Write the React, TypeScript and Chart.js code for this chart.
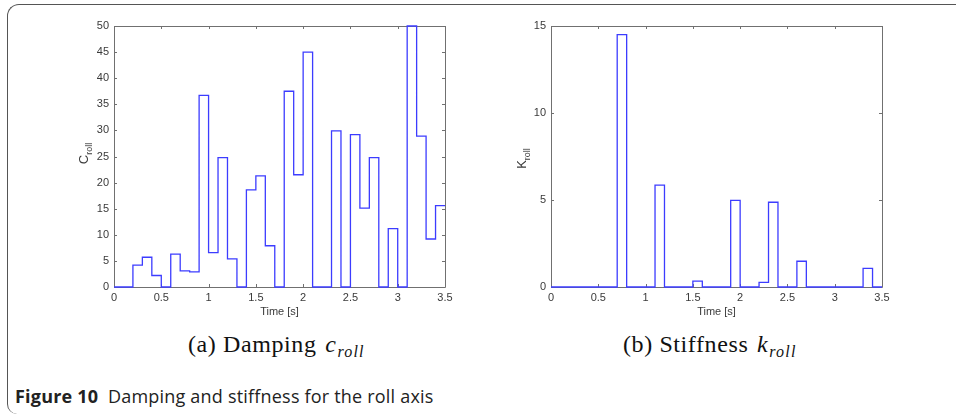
import React, { useEffect, useRef } from 'react';
import { Chart, registerables } from 'chart.js';

Chart.register(...registerables);

// Time grid (s): sample-and-hold breakpoints
const timeSteps = [
  0, 0.1, 0.2, 0.3, 0.4, 0.5, 0.6, 0.7, 0.8, 0.9,
  1.0, 1.1, 1.2, 1.3, 1.4, 1.5, 1.6, 1.7, 1.8, 1.9,
  2.0, 2.1, 2.2, 2.3, 2.4, 2.5, 2.6, 2.7, 2.8, 2.9,
  3.0, 3.1, 3.2, 3.3, 3.4, 3.5,
];

// Damping c_roll held over each 0.1 s interval (last entry = end of final hold)
const dampingValues = [
  0, 0, 4.2, 5.7, 2.2, 0, 6.3, 3.1, 2.9, 36.7,
  6.6, 24.8, 5.4, 0, 18.6, 21.3, 7.9, 0, 37.5, 21.5,
  45.0, 0, 0, 29.9, 0, 29.2, 15.1, 24.8, 0, 11.2,
  0, 50, 28.9, 9.2, 15.6, 15.6,
];

// Stiffness k_roll held over each 0.1 s interval
const stiffnessValues = [
  0, 0, 0, 0, 0, 0, 0, 14.5, 0, 0,
  0, 5.85, 0, 0, 0, 0.34, 0, 0, 0, 4.98,
  0, 0, 0.27, 4.87, 0, 0, 1.48, 0, 0, 0,
  0, 0, 0, 1.07, 0, 0,
];

const xTickStep = 0.5;
const xMax = 3.5;
const dampingAxisMax = 50;
const dampingTickStep = 5;
const stiffnessAxisMax = 15;
const stiffnessTickStep = 5;

const LINE_COLOR = 'rgb(60,60,255)';
const AXIS_COLOR = '#707070';
const TEXT_COLOR = '#3a3a3a';
const SANS = "'Liberation Sans', Arial, sans-serif";

const boxPlugin = {
  id: 'matlabBox',
  beforeDatasetsDraw(chart: any) {
    const { ctx, chartArea } = chart;
    const { left, right, top, bottom } = chartArea;
    const xs = chart.scales.x;
    const ys = chart.scales.y;
    const tl = 3;
    ctx.save();
    ctx.strokeStyle = AXIS_COLOR;
    ctx.lineWidth = 1;
    ctx.beginPath();
    ctx.rect(Math.round(left) + 0.5, Math.round(top) + 0.5, Math.round(right - left), Math.round(bottom - top));
    xs.ticks.forEach((t: any) => {
      const px = Math.round(xs.getPixelForValue(t.value)) + 0.5;
      ctx.moveTo(px, bottom);
      ctx.lineTo(px, bottom - tl);
      ctx.moveTo(px, top);
      ctx.lineTo(px, top + tl);
    });
    ys.ticks.forEach((t: any) => {
      const py = Math.round(ys.getPixelForValue(t.value)) + 0.5;
      ctx.moveTo(left, py);
      ctx.lineTo(left + tl, py);
      ctx.moveTo(right, py);
      ctx.lineTo(right - tl, py);
    });
    ctx.stroke();
    ctx.restore();
  },
  afterDraw(chart: any, _args: any, opts: any) {
    const { ctx, chartArea } = chart;
    const { left, right, top, bottom } = chartArea;
    ctx.save();
    ctx.fillStyle = TEXT_COLOR;
    // x title
    ctx.font = `11px ${SANS}`;
    ctx.textAlign = 'center';
    ctx.textBaseline = 'middle';
    ctx.fillText(opts.xTitle, (left + right) / 2, bottom + opts.xTitleOffset);
    // y title with subscript, rotated
    ctx.translate(left - opts.yTitleOffset, (top + bottom) / 2 + opts.yTitleShift);
    ctx.rotate(-Math.PI / 2);
    ctx.font = `13px ${SANS}`;
    const mainW = ctx.measureText(opts.yMain).width;
    ctx.font = `9px ${SANS}`;
    const subW = ctx.measureText(opts.ySub).width;
    const total = mainW + subW;
    ctx.textAlign = 'left';
    ctx.textBaseline = 'alphabetic';
    ctx.font = `13px ${SANS}`;
    ctx.fillText(opts.yMain, -total / 2, 4);
    ctx.font = `9px ${SANS}`;
    ctx.fillText(opts.ySub, -total / 2 + mainW, 8);
    ctx.restore();
  },
};

type RollProps = {
  values: number[];
  yMax: number;
  yStep: number;
  yMain: string;
  ySub: string;
  left: number;
  yTitleOffset: number;
  yTitleShift: number;
};

function RollChart({ values, yMax, yStep, yMain, ySub, left, yTitleOffset, yTitleShift }: RollProps) {
  const ref = useRef<HTMLCanvasElement>(null);
  useEffect(() => {
    if (!ref.current) return;
    const tickFont = { family: SANS, size: 11 };
    const chart = new Chart(ref.current, {
      type: 'line',
      data: {
        datasets: [
          {
            data: timeSteps.map((t, i) => ({ x: t, y: values[i] })),
            stepped: true,
            borderColor: LINE_COLOR,
            borderWidth: 1.3,
            pointRadius: 0,
            fill: false,
            clip: 4,
          } as any,
        ],
      },
      options: {
        responsive: false,
        animation: false,
        devicePixelRatio: 1,
        layout: { padding: { top: 16, right: 25, bottom: 0, left: 0 } },
        plugins: {
          legend: { display: false },
          tooltip: { enabled: false },
          matlabBox: {
            xTitle: 'Time [s]',
            xTitleOffset: 25,
            yMain,
            ySub,
            yTitleOffset,
            yTitleShift,
          },
        } as any,
        scales: {
          x: {
            type: 'linear',
            min: 0,
            max: xMax,
            grid: { display: false, drawTicks: false },
            border: { display: false },
            ticks: {
              stepSize: xTickStep,
              padding: 4,
              font: tickFont,
              color: TEXT_COLOR,
              maxRotation: 0,
              autoSkip: false,
              callback: (v: any) => String(v),
            },
            afterFit: (s: any) => {
              s.height = 33;
            },
          },
          y: {
            type: 'linear',
            min: 0,
            max: yMax,
            grid: { display: false, drawTicks: false },
            border: { display: false },
            ticks: {
              stepSize: yStep,
              padding: 5,
              font: tickFont,
              color: TEXT_COLOR,
              callback: (v: any) => String(v),
            },
            afterFit: (s: any) => {
              s.width = 64;
            },
          },
        },
      },
      plugins: [boxPlugin],
    });
    return () => chart.destroy();
  }, []);
  return (
    <canvas
      ref={ref}
      width={420}
      height={310}
      style={{ position: 'absolute', left, top: 10, width: 420, height: 310 }}
    />
  );
}

const captionStyle: React.CSSProperties = {
  position: 'absolute',
  top: 330,
  fontFamily: "'Liberation Serif', 'Times New Roman', serif",
  fontSize: 24,
  letterSpacing: '0.6px',
  color: '#111',
  whiteSpace: 'nowrap',
  lineHeight: '28px',
};

const mathStyle: React.CSSProperties = {
  fontStyle: 'italic',
  marginLeft: 2,
};

const subStyle: React.CSSProperties = {
  fontSize: 16,
  fontStyle: 'italic',
  letterSpacing: '1.2px',
  verticalAlign: '-5px',
  lineHeight: '0',
  marginLeft: 1,
};

export default function App() {
  return (
    <div
      style={{
        position: 'absolute',
        left: 0,
        top: 0,
        width: 956,
        height: 418,
        background: '#fff',
        overflow: 'hidden',
      }}
    >
      <div
        style={{
          position: 'absolute',
          left: 7,
          top: 4,
          width: 1000,
          height: 410,
          borderTop: '1.5px solid #555',
          borderLeft: '1.5px solid #555',
          borderTopLeftRadius: 12,
          borderBottomLeftRadius: 10,
          boxSizing: 'border-box',
        }}
      />
      <RollChart
        values={dampingValues}
        yMax={dampingAxisMax}
        yStep={dampingTickStep}
        yMain="C"
        ySub="roll"
        left={50}
        yTitleOffset={30}
        yTitleShift={-3}
      />
      <RollChart
        values={stiffnessValues}
        yMax={stiffnessAxisMax}
        yStep={stiffnessTickStep}
        yMain="K"
        ySub="roll"
        left={487}
        yTitleOffset={29}
        yTitleShift={2}
      />
      <div style={{ ...captionStyle, left: 188 }}>
        (a) Damping <span style={mathStyle}>c</span>
        <sub style={subStyle}>roll</sub>
      </div>
      <div style={{ ...captionStyle, left: 623 }}>
        (b) Stiffness <span style={mathStyle}>k</span>
        <sub style={subStyle}>roll</sub>
      </div>
      <div
        style={{
          position: 'absolute',
          left: 15,
          top: 384,
          fontFamily: "'Open Sans', 'Noto Sans', sans-serif",
          fontSize: 18,
          letterSpacing: '0.2px',
          color: '#222',
          whiteSpace: 'nowrap',
          lineHeight: '24px',
        }}
      >
        <b>Figure 10</b>&nbsp; Damping and stiffness for the roll axis
      </div>
    </div>
  );
}
